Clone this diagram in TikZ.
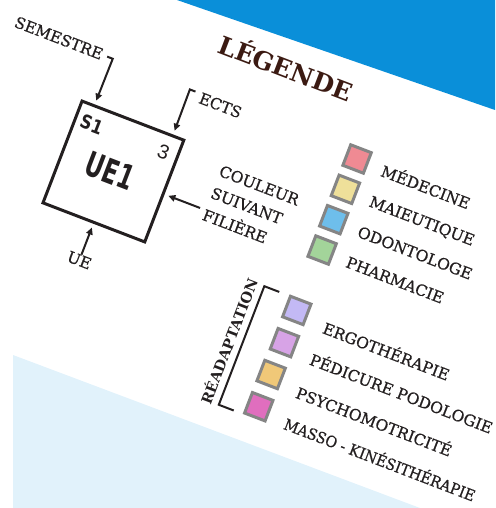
\documentclass[tikz,border=0pt]{standalone}
\usepackage{fontspec}
\setmainfont{DejaVu Serif}
\setsansfont{DejaVu Sans}
\newfontfamily\thinsans{Liberation Sans}
\newfontfamily\labelfont{DejaVu Serif}[FakeBold=0.7]
\usetikzlibrary{arrows.meta,calc}

\definecolor{inkc}{HTML}{231F20}
\definecolor{titlebrown}{HTML}{3B1A12}
\definecolor{bandblue}{HTML}{0A8FD9}
\definecolor{paleblue}{HTML}{E1F2FB}
\definecolor{swgray}{HTML}{858585}
\definecolor{cmed}{HTML}{EF8A93}
\definecolor{cmai}{HTML}{EFE09A}
\definecolor{codo}{HTML}{6EBEEB}
\definecolor{cpha}{HTML}{A3D49A}
\definecolor{cerg}{HTML}{C3B9F5}
\definecolor{cped}{HTML}{D7A3E6}
\definecolor{cpsy}{HTML}{F0C878}
\definecolor{cmas}{HTML}{E06EBE}

\begin{document}
\begin{tikzpicture}[x=1pt,y=-1pt,
  ink/.style={draw=inkc,line width=2pt},
  ptr/.style={ink,-{Triangle[length=7pt,width=6.5pt]},shorten >=4pt},
  lbl/.style={inner sep=0pt,text=inkc,font=\labelfont\fontsize{15.5}{18}\selectfont},
  swatch/.style={draw=swgray,line width=3pt,minimum size=22pt,inner sep=0pt},
  ]
  \useasboundingbox (0,0) rectangle (495,508);

  % background bands
  \fill[bandblue] (177,0) -- (495,0) -- (495,110) -- cycle;
  \fill[paleblue] (13,355) -- (420,508) -- (13,508) -- cycle;

  \begin{scope}[shift={(113.4,171.5)},rotate=-21,transform shape]
    % the course unit box
    \node[draw=inkc,line width=3pt,minimum size=109pt,inner sep=0pt] (ue) at (0,0) {};
    \node[inner sep=0pt,text=inkc] (uename) at (-3,1)
      {\scalebox{0.66}[1]{\sffamily\bfseries\fontsize{34}{34}\selectfont UE1}};
    \node[inner sep=0pt,text=inkc] (sem) at (-37,-36)
      {\scalebox{0.85}[1]{\sffamily\bfseries\fontsize{19}{19}\selectfont S1}};
    \node[inner sep=0pt,text=inkc] (ects) at (40,-36)
      {\thinsans\fontsize{20}{20}\selectfont 3};

    % title
    \node[inner sep=0pt,text=titlebrown,font=\bfseries\fontsize{25}{25}\selectfont]
      (title) at (124,-160) {LÉGENDE};

    % callouts around the box
    \node[lbl,anchor=base east] (semlabel) at (-52,-99.5) {SEMESTRE};
    \coordinate (semtick) at (-47,-105);
    \coordinate (sembend) at (-41,-105);
    \draw[ptr] (semtick) -- (sembend) -- ($(ue.north west)!0.13!(ue.north east)$);

    \node[lbl,anchor=base west] (ectslabel) at (54,-94.5) {ECTS};
    \coordinate (ectstick) at (48,-104);
    \coordinate (ectsbend) at (42,-104);
    \draw[ptr] (ectstick) -- (ectsbend) -- ($(ue.north west)!0.88!(ue.north east)$);

    \node[lbl,anchor=center] (uelabel) at (0,95) {UE};
    \draw[ptr] (uelabel.north) -- (ue.south);

    \node[lbl,anchor=west,align=left,font=\labelfont\fontsize{15.5}{23.5}\selectfont]
      (colour) at (99,-16) {COULEUR\\SUIVANT\\FILIÈRE};
    \coordinate (colourtail) at (94,3);
    \draw[ptr] (colourtail) -- ($(ue.north east)!0.527!(ue.south east)$);

    % colour swatches by programme
    \node[swatch,fill=cmed] (smed) at (223,-99) {};
    \node[swatch,fill=cmai] (smai) at (223,-66.5) {};
    \node[swatch,fill=codo] (sodo) at (223,-34) {};
    \node[swatch,fill=cpha] (spha) at (223,-1.5) {};
    \node[lbl,anchor=base west] (lmed) at (250,-91.5) {MÉDECINE};
    \node[lbl,anchor=base west] (lmai) at (250,-59) {MAIEUTIQUE};
    \node[lbl,anchor=base west] (lodo) at (250,-26.5) {ODONTOLOGE};
    \node[lbl,anchor=base west] (lpha) at (250,6) {PHARMACIE};

    \node[swatch,fill=cerg] (serg) at (221,64) {};
    \node[swatch,fill=cped] (sped) at (221,98.5) {};
    \node[swatch,fill=cpsy] (spsy) at (220,133) {};
    \node[swatch,fill=cmas] (smas) at (220,167.5) {};
    \node[lbl,anchor=base west] (lerg) at (252,76) {ERGOTHÉRAPIE};
    \node[lbl,anchor=base west] (lped) at (251,110) {PÉDICURE PODOLOGIE};
    \node[lbl,anchor=base west] (lpsy) at (250,146) {PSYCHOMOTRICITÉ};
    \node[lbl,anchor=base west] (lmas) at (250,179.5)
      {\scalebox{0.92}[1]{MASSO - KINÉSITHÉRAPIE}};

    % rehabilitation group
    \coordinate (brtop) at (198,53);
    \coordinate (brbot) at (198,180);
    \draw[ink] (brtop) -- (182,53) -- (182,180) -- (brbot);
    \node[inner sep=0pt,text=inkc,rotate=90,font=\bfseries\fontsize{14.5}{15}\selectfont]
      (rea) at (168,117) {RÉADAPTATION};
  \end{scope}
\end{tikzpicture}
\end{document}
